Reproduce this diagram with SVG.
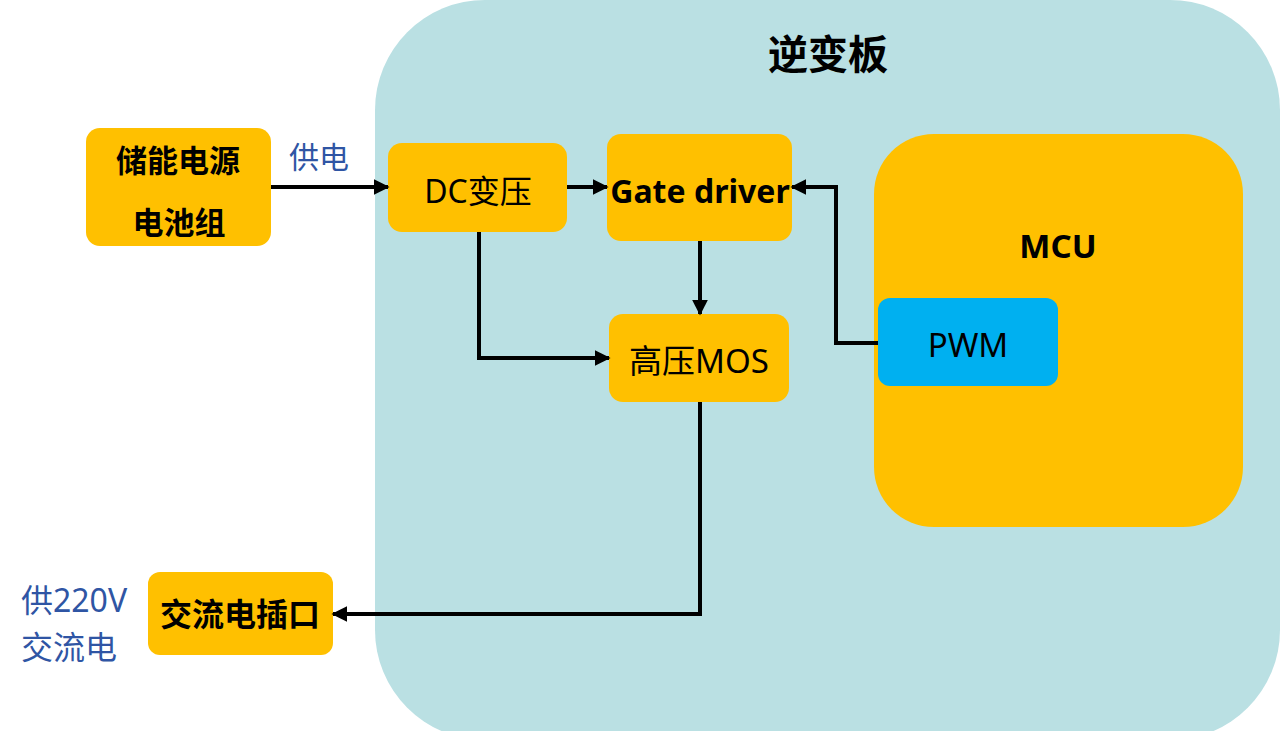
<svg xmlns="http://www.w3.org/2000/svg" width="1280" height="731" viewBox="0 0 1280 731">
<defs>
<marker id="ah" viewBox="0 0 10 10" refX="9" refY="5" markerWidth="4" markerHeight="4" orient="auto" markerUnits="strokeWidth">
<path d="M0,0 L10,5 L0,10 Z" fill="#000"/>
</marker>
<style>
.n{fill:#FFC000}
.t{font-family:"Noto Sans","Noto Sans CJK SC",sans-serif;fill:#000;text-anchor:middle}
.b{font-weight:bold}
.blue{font-family:"Noto Sans","Noto Sans CJK SC",sans-serif;fill:#2F55A4}
.c{fill:none;stroke:#000;stroke-width:4;marker-end:url(#ah)}
</style>
</defs>
<rect width="1280" height="731" fill="#fff"/>
<g id="board">
<rect x="375" y="0" width="905" height="740" rx="110" fill="#BAE0E3"/>
<text class="t b" x="828" y="69" font-size="40">逆变板</text>
</g>
<g id="battery">
<rect class="n" x="86" y="128" width="185" height="118" rx="14"/>
<text class="t b" x="178" y="172" font-size="31">储能电源</text>
<text class="t b" x="179" y="234" font-size="31">电池组</text>
</g>
<text class="blue" x="289" y="168" font-size="30">供电</text>
<g id="dc">
<rect class="n" x="388" y="143" width="179" height="89" rx="14"/>
<text class="t" x="478" y="203" font-size="32">DC变压</text>
</g>
<g id="gate">
<rect class="n" x="607" y="134" width="185" height="107" rx="14"/>
<text class="t b" x="700" y="203" font-size="32">Gate driver</text>
</g>
<g id="mos">
<rect class="n" x="609" y="314" width="180" height="88" rx="14"/>
<text class="t" x="699" y="373" font-size="33">高压MOS</text>
</g>
<g id="mcu">
<rect class="n" x="874" y="134" width="369" height="393" rx="60"/>
<text class="t b" x="1058" y="258" font-size="33">MCU</text>
</g>
<g id="pwm">
<rect x="878" y="298" width="180" height="88" rx="12" fill="#00B0F0"/>
<text class="t" x="968" y="357" font-size="33">PWM</text>
</g>
<g id="socket">
<rect class="n" x="148" y="572" width="185" height="83" rx="12"/>
<text class="t b" x="240" y="626" font-size="32">交流电插口</text>
</g>
<text class="blue" x="21" y="612" font-size="32">供220V</text>
<text class="blue" x="21" y="659" font-size="32">交流电</text>
<g id="connectors">
<path class="c" d="M271,187 H388"/>
<path class="c" d="M567,187 H607"/>
<path class="c" d="M700,241 V314"/>
<path class="c" d="M479,232 V358 H609"/>
<path class="c" d="M878,343 H836 V187 H792"/>
<path class="c" d="M700,402 V614 H333"/>
</g>
</svg>
